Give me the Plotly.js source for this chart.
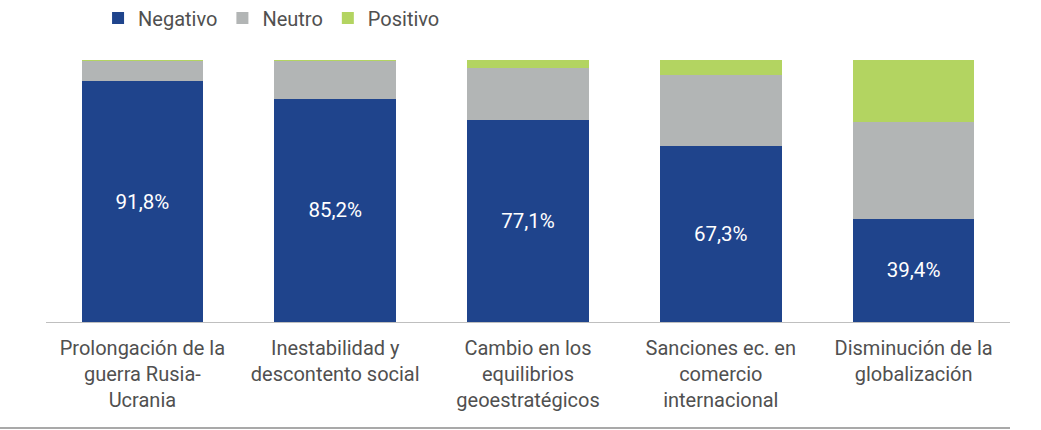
<!DOCTYPE html>
<html>
<head>
<meta charset="utf-8">
<script src="https://cdn.plot.ly/plotly-3.0.1.min.js"></script>
<style>html,body{margin:0;padding:0;background:#fff;}#chart{width:1041px;height:430px;}</style>
</head>
<body>
<div id="chart"></div>
<script>
const categories = [
  "Prolongación de la<br>guerra Rusia-<br>Ucrania",
  "Inestabilidad y<br>descontento social",
  "Cambio en los<br>equilibrios<br>geoestratégicos",
  "Sanciones ec. en<br>comercio<br>internacional",
  "Disminución de la<br>globalización"
];
const negativo = [91.8, 85.2, 77.1, 67.3, 39.4];
const neutro   = [7.7, 14.3, 19.7, 26.9, 36.8];
const positivo = [0.5, 0.5, 3.2, 5.8, 23.8];

const traces = [
  {type:'bar', name:'Negativo', x:categories, y:negativo,
   marker:{color:'#1F448C'},
   texttemplate:'%{y:.1f}%', textposition:'inside', insidetextanchor:'middle',
   textfont:{color:'#ffffff', size:20.5, family:'Roboto'}, hoverinfo:'skip'},
  {type:'bar', name:'Neutro', x:categories, y:neutro,
   marker:{color:'#B2B5B5'}, textposition:'none', hoverinfo:'skip'},
  {type:'bar', name:'Positivo', x:categories, y:positivo,
   marker:{color:'#B3D461'}, textposition:'none', hoverinfo:'skip'}
];

const layout = {
  width:1041, height:430,
  margin:{l:46, r:31, t:60, b:108, autoexpand:false},
  barmode:'stack', bargap:0.37,
  separators:',.',
  paper_bgcolor:'#ffffff', plot_bgcolor:'#ffffff',
  font:{family:'Roboto', size:20, color:'#505050'},
  showlegend:true,
  legend:{orientation:'h', x:0.054, xanchor:'left', y:1.16, yanchor:'middle',
          font:{size:20, color:'#505050'}, traceorder:'normal', itemwidth:30},
  xaxis:{showline:true, linecolor:'#BFBFBF', linewidth:1, ticks:'', showgrid:false,
         tickfont:{size:20, color:'#505050'}, ticklabelstandoff:8, fixedrange:true, automargin:false},
  yaxis:{range:[0,100], visible:false, showgrid:false, zeroline:false, fixedrange:true},
  shapes:[{type:'line', xref:'paper', yref:'paper', x0:-0.048, x1:1, y0:-0.405, y1:-0.405,
           line:{color:'#8C8C8C', width:1.5}}]
};

Plotly.newPlot('chart', traces, layout, {displayModeBar:false, staticPlot:true});
</script>
</body>
</html>
